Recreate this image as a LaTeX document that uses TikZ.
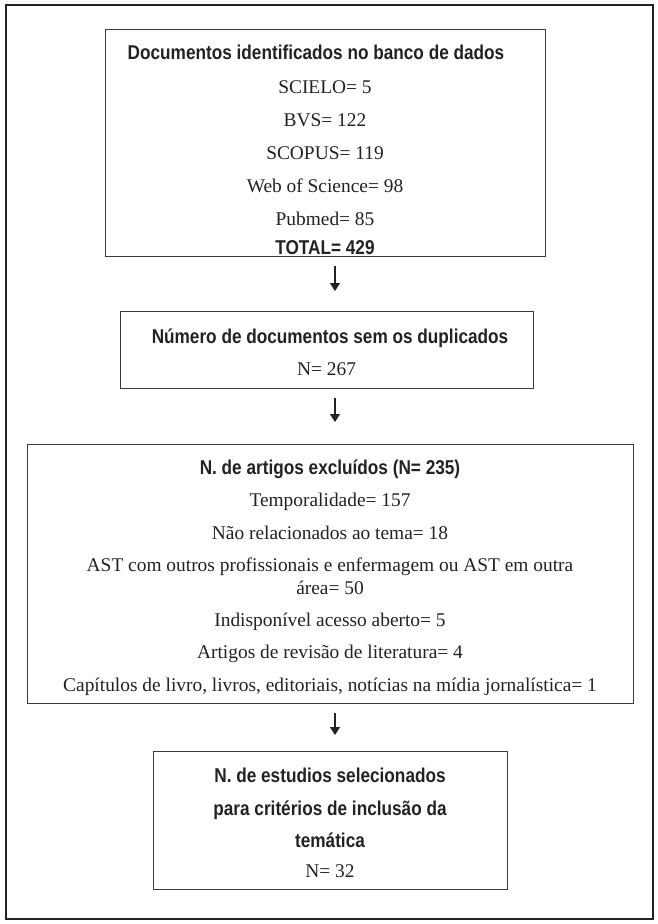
\documentclass[tikz,border=0pt]{standalone}
\usepackage{fontspec}
\setmainfont{Liberation Serif}
\newfontfamily\hdfont{Liberation Sans}[FakeStretch=0.86]
\usetikzlibrary{arrows.meta}
\definecolor{ink}{HTML}{222222}
\definecolor{edge}{HTML}{3A3A3A}
\tikzset{
  boxframe/.style={draw=edge, line width=1.1pt, rectangle, inner sep=0pt, anchor=north west},
  tx/.style={text=ink, inner sep=0pt, anchor=base, font=\fontsize{19.4}{22}\selectfont},
  hd/.style={text=ink, inner sep=0pt, anchor=base, font=\hdfont\bfseries\fontsize{20}{22}\selectfont},
  arr/.style={draw=ink, line width=1.3pt, -{Triangle[width=10pt,length=8pt]}},
}
\begin{document}
\begin{tikzpicture}[x=1pt,y=-1pt]
\useasboundingbox (0,0) rectangle (657,924);
\draw[draw=ink, line width=2.5pt] (6,5) rectangle (653,919);

% Box 1
\node[boxframe, minimum width=440pt, minimum height=227pt] (b1) at (105,29) {};
\node[hd] (b1h) at (316,59) {Documentos identificados no banco de dados};
\node[tx] (b1a) at (325,93) {SCIELO= 5};
\node[tx] (b1b) at (325,126) {BVS= 122};
\node[tx] (b1c) at (325,159) {SCOPUS= 119};
\node[tx] (b1d) at (325,192) {Web of Science= 98};
\node[tx] (b1e) at (325,225) {Pubmed= 85};
\node[hd] (b1f) at (325,254) {TOTAL= 429};

% Box 2
\node[boxframe, minimum width=413pt, minimum height=77pt] (b2) at (120,311) {};
\node[hd] (b2h) at (330,343) {Número de documentos sem os duplicados};
\node[tx] (b2a) at (326.5,375) {N= 267};

% Box 3
\node[boxframe, minimum width=606pt, minimum height=259pt] (b3) at (27,444) {};
\node[hd] (b3h) at (330,474) {N. de artigos excluídos (N= 235)};
\node[tx] (b3a) at (330,506) {Temporalidade= 157};
\node[tx] (b3b) at (330,539) {Não relacionados ao tema= 18};
\node[tx] (b3c) at (330,571) {AST com outros profissionais e enfermagem ou AST em outra};
\node[tx] (b3d) at (330,594) {área= 50};
\node[tx] (b3e) at (330,626) {Indisponível acesso aberto= 5};
\node[tx] (b3f) at (330,658) {Artigos de revisão de literatura= 4};
\node[tx] (b3g) at (330,691) {Capítulos de livro, livros, editoriais, notícias na mídia jornalística= 1};

% Box 4
\node[boxframe, minimum width=354pt, minimum height=138pt] (b4) at (153,751) {};
\node[hd] (b4h) at (330,782) {N. de estudios selecionados};
\node[hd] (b4a) at (330,815) {para critérios de inclusão da};
\node[hd] (b4b) at (330,847) {temática};
\node[tx] (b4c) at (330,877) {N= 32};

% Arrows
\coordinate (ax) at (335,0);
\draw[arr, shorten <=9pt, shorten >=20pt] (b1.south -| ax) -- (b2.north -| ax);
\draw[arr, shorten <=9pt, shorten >=22pt] (b2.south -| ax) -- (b3.north -| ax);
\draw[arr, shorten <=9pt, shorten >=16pt] (b3.south -| ax) -- (b4.north -| ax);
\end{tikzpicture}
\end{document}
